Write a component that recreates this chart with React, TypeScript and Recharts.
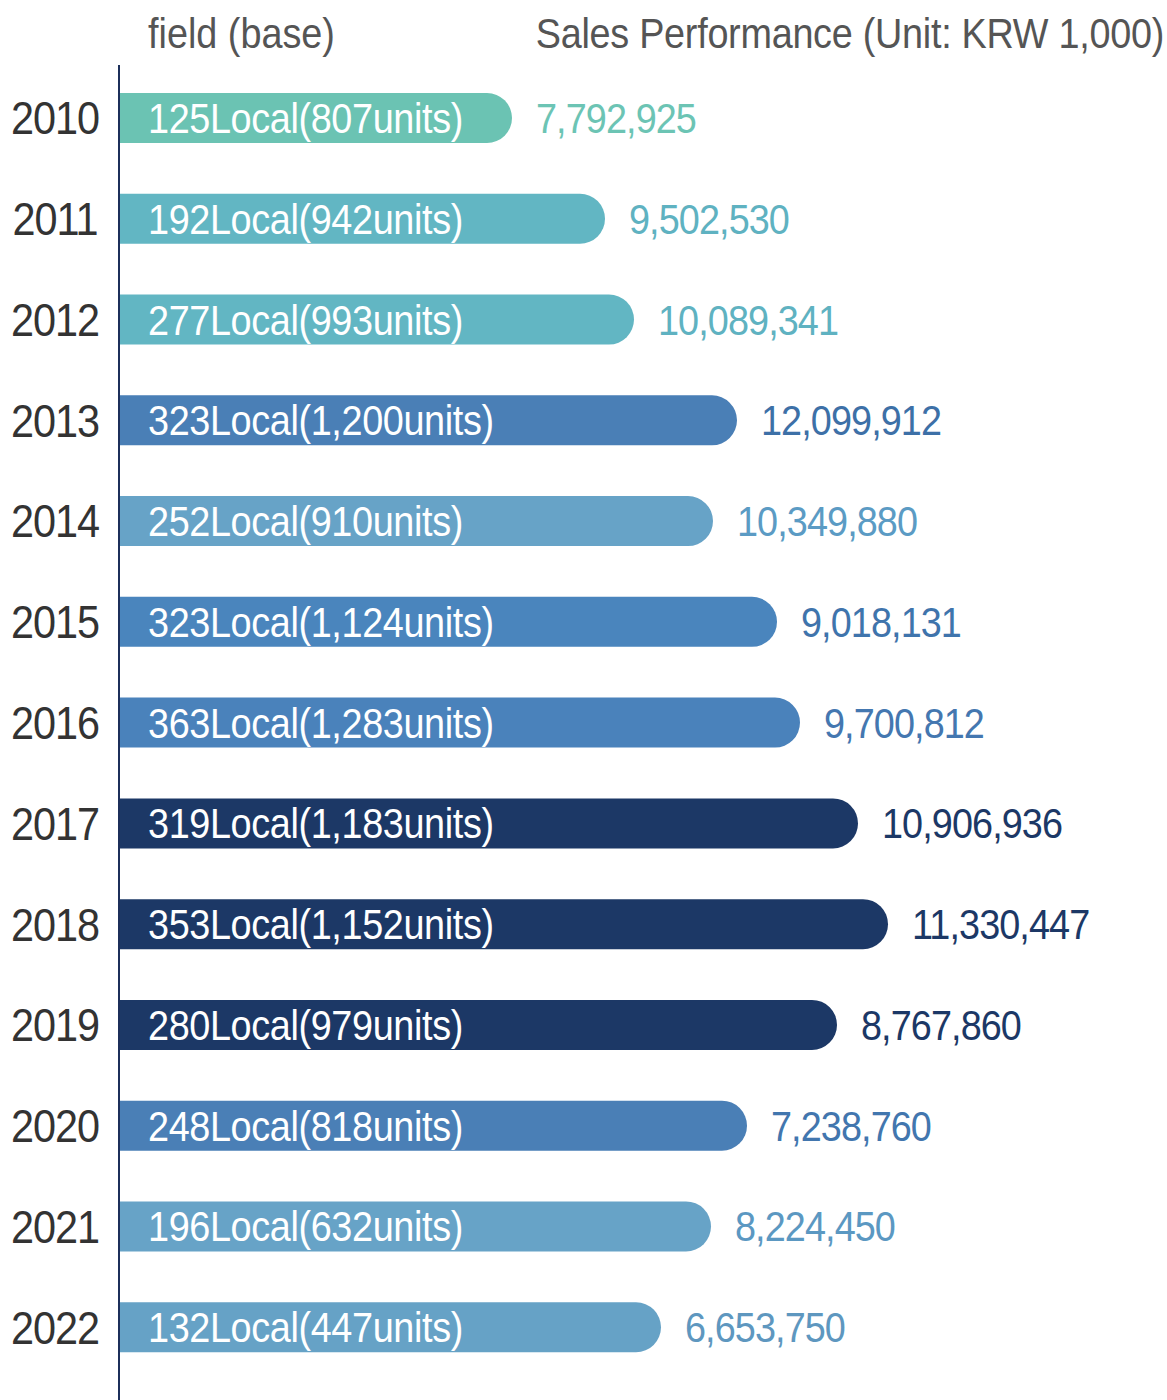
import React from "react";
import { BarChart, Bar, XAxis, YAxis, Cell, LabelList } from "recharts";

const years = ["2010", "2011", "2012", "2013", "2014", "2015", "2016", "2017", "2018", "2019", "2020", "2021", "2022"];
const locals = [125, 192, 277, 323, 252, 323, 363, 319, 353, 280, 248, 196, 132];
const units = ["807", "942", "993", "1,200", "910", "1,124", "1,283", "1,183", "1,152", "979", "818", "632", "447"];
const sales = [
  "7,792,925", "9,502,530", "10,089,341", "12,099,912", "10,349,880", "9,018,131", "9,700,812",
  "10,906,936", "11,330,447", "8,767,860", "7,238,760", "8,224,450", "6,653,750",
];
// drawn bar length as it appears in the picture (not proportional to sales)
const barLength = [393, 486, 515, 618, 594, 658, 681, 739, 769, 718, 628, 592, 542];

const barColors = [
  "#6bc3b3", "#62b6c3", "#62b6c3", "#4a7fb6", "#67a3c7", "#4a85bd", "#4a82bb",
  "#1c3866", "#1c3866", "#1c3866", "#4a7fb6", "#67a3c7", "#66a2c6",
];
const valueColors = [
  "#6cc4b4", "#5fb2c1", "#5fb2c1", "#3d70a7", "#5b9bc4", "#3f74ac", "#4477b0",
  "#1c3866", "#1c3866", "#1c3866", "#4276ae", "#5b98c2", "#5e97bf",
];

const data = years.map((y, i) => ({
  year: y,
  len: barLength[i],
  field: `${locals[i]}Local(${units[i]}units)`,
  sales: sales[i],
}));

const FONT = "'Liberation Sans', Arial, sans-serif";
const W = 1167;
const H = 1400;

// narrowed text: the source font is condensed, so squeeze horizontally
function NarrowText({ x, y, size, spacing, fill, anchor = "start", children }: any) {
  return (
    <text
      transform={`translate(${x},${y}) scale(0.9,1)`}
      textAnchor={anchor}
      fontFamily={FONT}
      fontSize={size}
      letterSpacing={spacing}
      fill={fill}
    >
      {children}
    </text>
  );
}

function YearTick(props: any) {
  const { y, payload } = props;
  return (
    <NarrowText x={55} y={y + 16} size={46} spacing={-1.1} fill="#333333" anchor="middle">
      {payload.value}
    </NarrowText>
  );
}

function InsideLabel(props: any) {
  const { x, y, height, value } = props;
  return (
    <NarrowText x={x + 29} y={y + height / 2 + 15} size={42} spacing={-0.4} fill="#ffffff">
      {value}
    </NarrowText>
  );
}

function ValueLabel(props: any) {
  const { x, y, width, height, value, index } = props;
  const i = typeof index === "number" ? index : sales.indexOf(value);
  return (
    <NarrowText x={x + width + 24} y={y + height / 2 + 15} size={42} spacing={-1} fill={valueColors[i]}>
      {value}
    </NarrowText>
  );
}

export default function App() {
  return (
    <div style={{ position: "absolute", left: 0, top: 0, width: W, height: H, background: "#fff" }}>
      <BarChart
        layout="vertical"
        width={W}
        height={H}
        data={data}
        margin={{ top: 65, right: 0, bottom: 0, left: 0 }}
      >
        <XAxis type="number" domain={[0, 1048]} hide />
        <YAxis
          type="category"
          dataKey="year"
          width={119}
          interval={0}
          axisLine={{ stroke: "#1c2f5a", strokeWidth: 2 }}
          tickLine={false}
          tick={<YearTick />}
          padding={{ top: 3, bottom: 22 }}
        />
        <Bar dataKey="len" barSize={50} radius={[0, 25, 25, 0]} isAnimationActive={false}>
          {data.map((d, i) => (
            <Cell key={d.year} fill={barColors[i]} />
          ))}
          <LabelList dataKey="field" content={InsideLabel} />
          <LabelList dataKey="sales" content={ValueLabel} />
        </Bar>
      </BarChart>
      <svg width={W} height={70} style={{ position: "absolute", left: 0, top: 0 }}>
        <NarrowText x={148} y={48} size={42} spacing={0} fill="#555555">
          field (base)
        </NarrowText>
        <NarrowText x={1164} y={48} size={42} spacing={-0.3} fill="#555555" anchor="end">
          Sales Performance (Unit: KRW 1,000)
        </NarrowText>
      </svg>
    </div>
  );
}
